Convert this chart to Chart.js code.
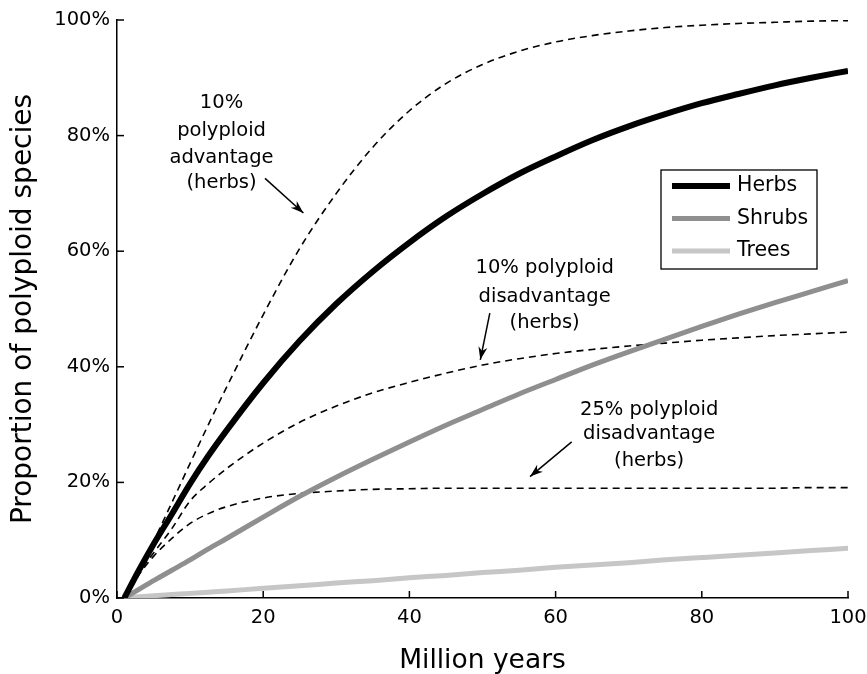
<!DOCTYPE html>
<html><head><meta charset="utf-8">
<script src="https://cdn.jsdelivr.net/npm/chart.js@4"></script>
<style>html,body{margin:0;padding:0;background:#fff}#wrap{width:867px;height:674px;position:relative}canvas{display:block}</style>
</head><body><div id="wrap"><canvas id="c" width="867" height="674" style="width:867px;height:674px"></canvas></div>
<script>
const years = [1,3,5,7.5,10,12.5,15,20,25,30,35,40,45,50,55,60,65,70,75,80,85,90,95,100];
const herbs = [0,4.8,9.3,14.5,19.8,24.6,29.0,37.2,44.5,50.9,56.5,61.5,66.0,69.9,73.4,76.4,79.2,81.6,83.7,85.6,87.2,88.7,90.0,91.2];
const shrubs = [0,1.5,3.0,4.8,6.6,8.5,10.3,14.0,17.6,20.9,24.0,27.0,29.9,32.6,35.3,37.8,40.3,42.6,44.8,47.0,49.1,51.1,53.0,54.9];
const trees = [0,0.2,0.4,0.6,0.8,1.0,1.2,1.7,2.1,2.6,3.0,3.5,3.9,4.4,4.8,5.3,5.7,6.1,6.6,7.0,7.4,7.8,8.2,8.6];
const adv10 = [0,4.9,9.8,16.5,23.3,30.0,36.5,49.0,60.5,70.0,78.0,84.3,89.0,92.3,94.6,96.2,97.3,98.1,98.7,99.1,99.4,99.6,99.8,99.9];
const dis10 = [0,4.4,7.8,12.0,16.8,19.8,22.4,26.8,30.4,33.2,35.5,37.3,38.9,40.3,41.4,42.3,43.0,43.6,44.1,44.6,45.0,45.4,45.7,46.0];
const dis25 = [0,4.0,7.2,10.3,12.9,14.6,15.8,17.3,18.1,18.5,18.8,18.9,19.0,19.0,19.0,19.0,19.0,19.0,19.0,19.0,19.0,19.0,19.1,19.1];
const xTicks = [0,20,40,60,80,100];
const yTicks = [0,20,40,60,80,100];
const legendNames = ['Herbs','Shrubs','Trees'];
const annotations = [
  {lines:['10%','polyploid','advantage','(herbs)'], x:14.3, y:[85.6,80.8,76.2,71.8], from:[20.25,72.6], to:[25.5,66.6]},
  {lines:['10% polyploid','disadvantage','(herbs)'], x:58.5, y:[57.1,52.1,47.6], from:[51.0,49.3], to:[49.7,41.2]},
  {lines:['25% polyploid','disadvantage','(herbs)'], x:72.8, y:[32.6,28.3,23.7], from:[62.2,27.0], to:[56.5,21.0]}
];

const pts = arr => arr.map((v,i)=>({x:years[i], y:v}));
const FONT = 'DejaVu Sans';

const solid = (label, data, color, w, order) => ({label, data:pts(data), borderColor:color, borderWidth:w, pointRadius:0, cubicInterpolationMode:'monotone', fill:false, order, borderCapStyle:'butt'});
const dashed = (label, data) => ({label, data:pts(data), borderColor:'#000', borderWidth:1.6, borderDash:[7,5], pointRadius:0, cubicInterpolationMode:'monotone', fill:false, order:5});

const innerTicks = {
  id:'innerTicks',
  afterDraw(chart){
    const {ctx, scales:{x,y}, chartArea:a} = chart;
    ctx.save(); ctx.strokeStyle='#000'; ctx.lineWidth=1.5;
    yTicks.forEach(v=>{const p=y.getPixelForValue(v); ctx.beginPath(); ctx.moveTo(a.left,p); ctx.lineTo(a.left+7,p); ctx.stroke();});
    xTicks.forEach(v=>{const p=x.getPixelForValue(v); ctx.beginPath(); ctx.moveTo(p,a.bottom); ctx.lineTo(p,a.bottom-7); ctx.stroke();});
    ctx.restore();
  }
};

function arrow(ctx, x1,y1,x2,y2){
  ctx.beginPath(); ctx.moveTo(x1,y1); ctx.lineTo(x2,y2); ctx.stroke();
  const ang=Math.atan2(y2-y1,x2-x1), L=13, W=4.5;
  ctx.beginPath();
  ctx.moveTo(x2,y2);
  ctx.lineTo(x2-L*Math.cos(ang)+W*Math.sin(ang), y2-L*Math.sin(ang)-W*Math.cos(ang));
  ctx.lineTo(x2-L*0.7*Math.cos(ang), y2-L*0.7*Math.sin(ang));
  ctx.lineTo(x2-L*Math.cos(ang)-W*Math.sin(ang), y2-L*Math.sin(ang)+W*Math.cos(ang));
  ctx.closePath(); ctx.fill();
}

const notes = {
  id:'notes',
  afterDraw(chart){
    const {ctx, scales:{x,y}} = chart;
    ctx.save(); ctx.fillStyle='#000'; ctx.strokeStyle='#000'; ctx.lineWidth=1.5;
    ctx.font = '19.5px "'+FONT+'"'; ctx.textAlign='center'; ctx.textBaseline='middle';
    annotations.forEach(a=>{
      a.lines.forEach((t,i)=>ctx.fillText(t, x.getPixelForValue(a.x), y.getPixelForValue(a.y[i])));
      arrow(ctx, x.getPixelForValue(a.from[0]), y.getPixelForValue(a.from[1]), x.getPixelForValue(a.to[0]), y.getPixelForValue(a.to[1]));
    });
    ctx.restore();
  }
};

const legendBox = {
  id:'legendBox',
  afterDraw(chart){
    const ctx = chart.ctx;
    const bx=661, by=170, bw=156, bh=99;
    ctx.save();
    ctx.fillStyle='#fff'; ctx.fillRect(bx,by,bw,bh);
    ctx.strokeStyle='#000'; ctx.lineWidth=1.3; ctx.strokeRect(bx,by,bw,bh);
    ctx.font='20.5px "'+FONT+'"'; ctx.textAlign='left'; ctx.textBaseline='middle';
    legendNames.forEach((n,i)=>{
      const ds = chart.data.datasets[i];
      const yy = by+16+i*32.5;
      ctx.strokeStyle=ds.borderColor; ctx.lineWidth=ds.borderWidth;
      ctx.beginPath(); ctx.moveTo(bx+11,yy); ctx.lineTo(bx+69,yy); ctx.stroke();
      ctx.fillStyle='#000'; ctx.fillText(n, bx+76, yy);
    });
    ctx.restore();
  }
};

new Chart(document.getElementById('c'), {
  type:'line',
  data:{datasets:[
    solid('Herbs', herbs, '#000000', 6, 1),
    solid('Shrubs', shrubs, '#8f8f8f', 5, 2),
    solid('Trees', trees, '#c6c6c6', 5, 3),
    dashed('10% advantage', adv10),
    dashed('10% disadvantage', dis10),
    dashed('25% disadvantage', dis25)
  ]},
  options:{
    responsive:false, animation:false, devicePixelRatio:1,
    layout:{padding:{top:20,right:19,left:0,bottom:0}},
    plugins:{legend:{display:false}, tooltip:{enabled:false}},
    scales:{
      x:{type:'linear', min:0, max:100,
        afterFit(s){s.height=76; s.paddingRight=0; s.paddingLeft=0;},
        grid:{display:true, drawOnChartArea:false, drawTicks:false},
        border:{display:true, color:'#000', width:1.5},
        ticks:{stepSize:20, padding:8, color:'#000', font:{family:FONT, size:19.5}, maxRotation:0},
        title:{display:true, text:'Million years', color:'#000', font:{family:FONT, size:26.5}, padding:{top:0,bottom:-3}}
      },
      y:{type:'linear', min:0, max:100,
        afterFit(s){s.width=117; s.paddingTop=0; s.paddingBottom=0;},
        grid:{display:true, drawOnChartArea:false, drawTicks:false},
        border:{display:true, color:'#000', width:1.5},
        ticks:{stepSize:20, padding:7, color:'#000', font:{family:FONT, size:19.5}, callback:v=>v+'%'},
        title:{display:true, text:'Proportion of polyploid species', color:'#000', font:{family:FONT, size:28}, padding:{top:7,bottom:0}}
      }
    }
  },
  plugins:[innerTicks, notes, legendBox]
});
</script></body></html>
